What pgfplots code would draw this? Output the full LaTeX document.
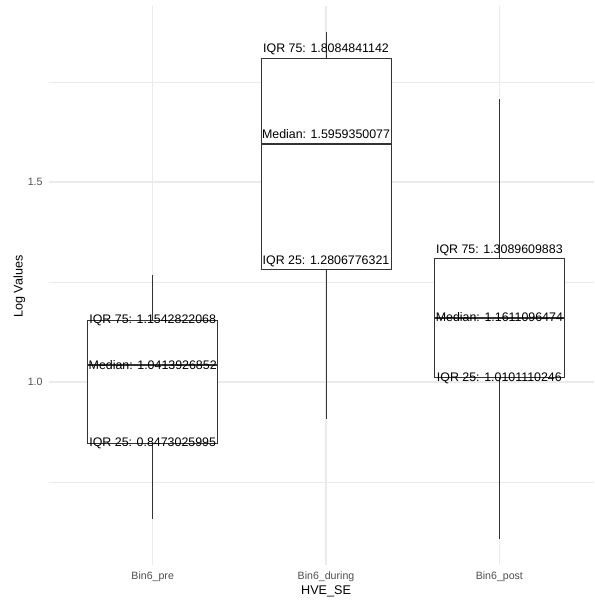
\documentclass[border=0pt]{standalone}
\usepackage{pgfplots}
\pgfplotsset{compat=1.18}
\usepgfplotslibrary{statistics}
\usepackage{fontspec}
\setmainfont{Liberation Sans}
\definecolor{grey20}{HTML}{333333}
\definecolor{grey30}{HTML}{4D4D4D}
\definecolor{grey92}{HTML}{EBEBEB}
\begin{document}
\begin{tikzpicture}
\begin{axis}[
  scale only axis, width=545.3pt, height=559pt,
  xmin=0.4, xmax=3.546, ymin=0.5425, ymax=1.94,
  axis line style={draw=none}, major tick style={draw=none}, minor tick style={draw=none},
  xtick={1,2,3}, xticklabels={Bin6\_pre,Bin6\_during,Bin6\_post},
  ytick={1.0,1.5}, yticklabels={1.0,1.5},
  minor ytick={0.75,1.25,1.75},
  xmajorgrids, ymajorgrids, yminorgrids,
  major grid style={draw=grey92, line width=1.2pt},
  minor grid style={draw=grey92, line width=0.8pt},
  /pgf/number format/assume math mode=true,
  xticklabel style={font=\fontsize{10.6}{12}\selectfont, text=grey30, anchor=base, yshift=-14.3pt},
  yticklabel style={font=\fontsize{10.6}{12}\selectfont, text=grey30, anchor=east, inner sep=0pt, xshift=-6pt},
  xlabel={HVE\_SE}, ylabel={Log Values},
  xlabel style={font=\fontsize{12.6}{14}\selectfont, at={(axis description cs:0.5086,-0.0524)}, anchor=base},
  ylabel style={font=\fontsize{12.6}{14}\selectfont, at={(axis description cs:-0.0477,0.4982)}, anchor=base, rotate=0},
  clip=false,
  boxplot/draw direction=y,
  boxplot/every median/.style={line width=2pt},
]
\addplot[draw=grey20, fill=white, line width=1pt, mark=none,
  boxplot prepared={lower whisker=0.657, lower quartile=0.8473025995, median=1.0413926852,
    upper quartile=1.1542822068, upper whisker=1.2675, draw position=1, box extend=0.75, whisker extend=0}]
  coordinates {};
\addplot[draw=grey20, fill=white, line width=1pt, mark=none,
  boxplot prepared={lower whisker=0.907, lower quartile=1.2806776321, median=1.5959350077,
    upper quartile=1.8084841142, upper whisker=1.876, draw position=2, box extend=0.75, whisker extend=0}]
  coordinates {};
\addplot[draw=grey20, fill=white, line width=1pt, mark=none,
  boxplot prepared={lower whisker=0.607, lower quartile=1.0101110246, median=1.1611096474,
    upper quartile=1.3089609883, upper whisker=1.707, draw position=3, box extend=0.75, whisker extend=0}]
  coordinates {};
\begin{scope}[every node/.style={font=\fontsize{12.4}{14}\selectfont, inner sep=0pt}]
\node[anchor=center] at (axis cs:1,1.1542822068) {IQR 75: 1.1542822068};
\node[anchor=center] at (axis cs:1,1.0413926852) {Median: 1.0413926852};
\node[anchor=center] at (axis cs:1,0.8473025995) {IQR 25: 0.8473025995};
\node[anchor=base, yshift=6.2pt] at (axis cs:2,1.8084841142) {IQR 75: 1.8084841142};
\node[anchor=base, yshift=5.2pt] at (axis cs:2,1.5959350077) {Median: 1.5959350077};
\node[anchor=base, yshift=5.3pt] at (axis cs:2,1.2806776321) {IQR 25: 1.2806776321};
\node[anchor=base, yshift=5.3pt] at (axis cs:3,1.3089609883) {IQR 75: 1.3089609883};
\node[anchor=center] at (axis cs:3,1.1611096474) {Median: 1.1611096474};
\node[anchor=center] at (axis cs:3,1.0101110246) {IQR 25: 1.0101110246};
\end{scope}
\end{axis}
\pgfresetboundingbox
\path[use as bounding box] (-48.7pt,-36pt) rectangle (545.3pt,565pt);
\end{tikzpicture}
\end{document}
